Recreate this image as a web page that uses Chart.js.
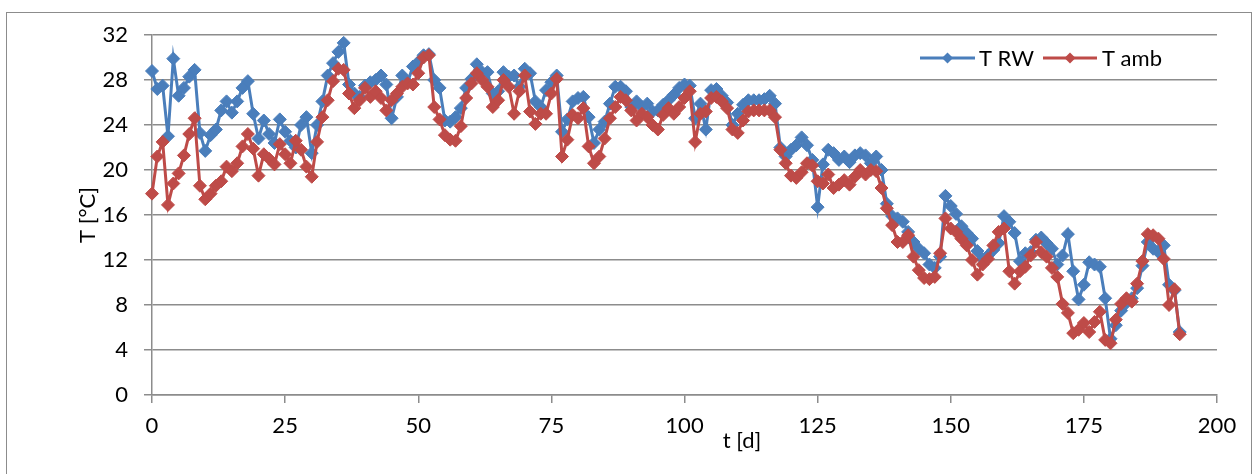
<!DOCTYPE html>
<html><head><meta charset="utf-8">
<script src="https://cdn.jsdelivr.net/npm/chart.js@4/dist/chart.umd.min.js"></script>
<style>
html,body{margin:0;padding:0;background:#fff;}
#wrap{position:relative;width:1253px;height:474px;overflow:hidden;}
#frame{position:absolute;left:6px;top:12px;width:1246px;height:470px;border:1px solid #8c8c8c;box-sizing:border-box;}
canvas{position:absolute;left:0;top:0;}
</style></head><body>
<div id="wrap"><div id="frame"></div><canvas id="c" width="1253" height="474"></canvas></div>
<script>
const days = [
0,1,2,3,4,5,6,7,8,9,10,11,12,13,14,15,16,17,18,19,
20,21,22,23,24,25,26,27,28,29,30,31,32,33,34,35,36,37,38,39,
40,41,42,43,44,45,46,47,48,49,50,51,52,53,54,55,56,57,58,59,
60,61,62,63,64,65,66,67,68,69,70,71,72,73,74,75,76,77,78,79,
80,81,82,83,84,85,86,87,88,89,90,91,92,93,94,95,96,97,98,99,
100,101,102,103,104,105,106,107,108,109,110,111,112,113,114,115,116,117,118,119,
120,121,122,123,124,125,126,127,128,129,130,131,132,133,134,135,136,137,138,139,
140,141,142,143,144,145,146,147,148,149,150,151,152,153,154,155,156,157,158,159,
160,161,162,163,164,165,166,167,168,169,170,171,172,173,174,175,176,177,178,179,
180,181,182,183,184,185,186,187,188,189,190,191,192,193];

const tRW = [
28.8,27.2,27.5,23.0,29.9,26.6,27.3,28.3,28.9,23.3,21.7,23.1,23.6,25.3,26.1,25.1,26.1,27.3,27.9,25.0,
22.8,24.4,23.2,22.4,24.5,23.4,22.6,22.0,24.0,24.7,21.5,24.0,26.1,28.4,29.5,30.5,31.3,27.6,26.8,26.5,
27.5,27.8,28.0,28.4,27.6,24.6,26.5,28.4,27.8,29.2,29.6,30.2,30.3,28.0,27.3,24.4,24.3,24.7,25.5,27.3,
28.1,29.4,28.7,28.7,26.8,27.0,28.7,28.3,28.4,27.4,29.0,28.6,26.1,25.6,27.1,27.8,28.4,23.4,24.5,26.1,
26.4,26.5,24.7,22.4,23.6,24.3,25.9,27.4,27.4,27.0,25.6,26.1,25.6,25.9,25.2,25.3,25.8,26.2,26.7,27.3,
27.6,27.5,24.6,25.9,23.6,27.1,27.2,26.6,26.0,24.0,25.0,25.8,26.2,26.2,26.2,26.3,26.6,25.9,22.0,21.2,
21.8,22.2,22.9,22.2,20.9,16.7,20.5,21.8,21.5,20.9,21.2,20.7,21.3,21.5,21.3,20.6,21.2,20.0,17.0,15.9,
15.7,15.4,14.5,13.6,13.0,12.6,11.6,11.3,12.3,17.7,16.8,16.1,15.0,14.4,13.9,12.8,12.1,12.4,12.9,13.5,
15.9,15.4,14.4,11.9,12.6,12.7,13.8,14.0,13.5,13.0,11.6,12.4,14.3,11.0,8.5,9.8,11.8,11.6,11.4,8.6,
5.0,6.2,7.5,8.2,8.6,9.5,11.5,13.6,13.0,12.7,13.3,9.8,9.3,5.6];

const tAmb = [
17.9,21.2,22.5,16.9,18.8,19.7,21.3,23.2,24.6,18.6,17.4,17.9,18.6,19.0,20.3,19.9,20.6,22.1,23.2,21.9,
19.5,21.4,21.0,20.5,22.3,21.4,20.6,22.6,21.8,20.3,19.4,22.5,24.7,26.2,27.9,29.0,28.9,26.8,25.5,26.2,
27.3,26.5,27.0,26.4,25.3,26.2,26.8,27.4,27.7,27.6,28.6,30.0,30.2,25.6,24.5,23.1,22.7,22.6,23.9,26.4,
27.7,28.6,28.0,27.4,25.6,26.2,28.0,27.4,25.0,27.0,28.4,25.2,24.1,25.0,25.0,26.8,28.1,21.2,22.7,24.9,
24.6,25.5,22.1,20.6,21.2,22.8,24.6,25.6,26.5,26.2,25.3,24.4,25.0,24.7,24.0,23.6,24.9,25.5,25.0,25.6,
26.4,27.0,22.5,25.0,25.2,26.4,26.5,26.1,25.5,23.6,23.3,24.4,25.2,25.3,25.3,25.3,25.3,24.7,21.8,20.6,
19.5,19.3,19.8,20.6,20.4,19.0,18.8,19.6,18.4,18.7,19.1,18.7,19.4,20.0,19.6,20.0,19.9,18.4,16.6,15.1,
13.6,13.6,14.2,12.3,11.1,10.4,10.3,10.5,12.6,15.7,14.8,14.5,13.9,13.3,12.0,10.7,11.6,12.1,13.3,14.5,
14.8,11.0,9.9,11.0,11.4,12.4,13.6,12.7,12.3,11.3,10.5,8.1,7.3,5.5,5.8,6.4,5.6,6.5,7.4,4.9,
4.6,6.7,8.1,8.6,8.3,9.9,11.9,14.3,14.2,13.9,12.1,8.0,9.4,5.4];

const seriesNames = ['T RW', 'T amb'];
const xTitle = 't [d]';
const yTitle = 'T [°C]';

const BLUE = '#4a7ebb';
const RED = '#be4b48';
const GRID = '#8c8c8c';
const FONT = 'Lato, "Open Sans", sans-serif';

function pts(vals){ return days.map((d,i)=>({x:d, y:vals[i]})); }

const deco = {
  id:'deco',
  afterDraw(chart){
    const c = chart.ctx;
    c.save();
    c.fillStyle = '#000';
    c.font = '22px ' + FONT;
    c.textAlign = 'center';
    c.textBaseline = 'middle';
    c.fillText(xTitle, 742, 441);
    c.save();
    c.translate(88, 215);
    c.rotate(-Math.PI/2);
    c.fillText(yTitle, 0, 0);
    c.restore();
    const items = [
      {name:seriesNames[0], color:BLUE, x0:920, x1:975, tx:979},
      {name:seriesNames[1], color:RED, x0:1043, x1:1097, tx:1102}
    ];
    const ly = 58;
    items.forEach(it=>{
      c.strokeStyle = it.color; c.lineWidth = 3;
      c.beginPath(); c.moveTo(it.x0, ly); c.lineTo(it.x1, ly); c.stroke();
      const mx = (it.x0+it.x1)/2, r = 5.5;
      c.fillStyle = it.color;
      c.beginPath(); c.moveTo(mx, ly-r); c.lineTo(mx+r, ly); c.lineTo(mx, ly+r); c.lineTo(mx-r, ly); c.closePath(); c.fill();
      c.fillStyle = '#000';
      c.textAlign = 'left';
      c.fillText(it.name, it.tx, ly+1);
    });
    c.restore();
  }
};

new Chart(document.getElementById('c'), {
  type:'line',
  data:{datasets:[
    {label:seriesNames[1], data:pts(tAmb), borderColor:RED, backgroundColor:RED, pointBorderColor:RED, pointBackgroundColor:RED,
     pointStyle:'rectRot', pointRadius:6.5, pointBorderWidth:1, borderWidth:3, tension:0, order:0, clip:false},
    {label:seriesNames[0], data:pts(tRW), borderColor:BLUE, backgroundColor:BLUE, pointBorderColor:BLUE, pointBackgroundColor:BLUE,
     pointStyle:'rectRot', pointRadius:6.5, pointBorderWidth:1, borderWidth:3, tension:0, order:1, clip:false}
  ]},
  options:{
    responsive:false, animation:false, devicePixelRatio:1,
    layout:{padding:{left:0, top:35, right:36, bottom:0}},
    plugins:{legend:{display:false}, tooltip:{enabled:false}},
    scales:{
      x:{type:'linear', min:0, max:200,
        afterFit:s=>{ s.height = 79; },
        ticks:{stepSize:25, padding:10, maxRotation:0, color:'#000', font:{family:FONT, size:22}},
        grid:{drawOnChartArea:false, drawTicks:true, tickLength:8, color:GRID, lineWidth:1.5},
        border:{display:true, color:GRID, width:1.5}
      },
      y:{min:0, max:32,
        afterFit:s=>{ s.width = 152; },
        ticks:{stepSize:4, padding:16, color:'#000', font:{family:FONT, size:22}},
        grid:{color:GRID, lineWidth:1.5, tickLength:8},
        border:{display:true, color:GRID, width:1.5}
      }
    }
  },
  plugins:[deco]
});
</script>
</body></html>
